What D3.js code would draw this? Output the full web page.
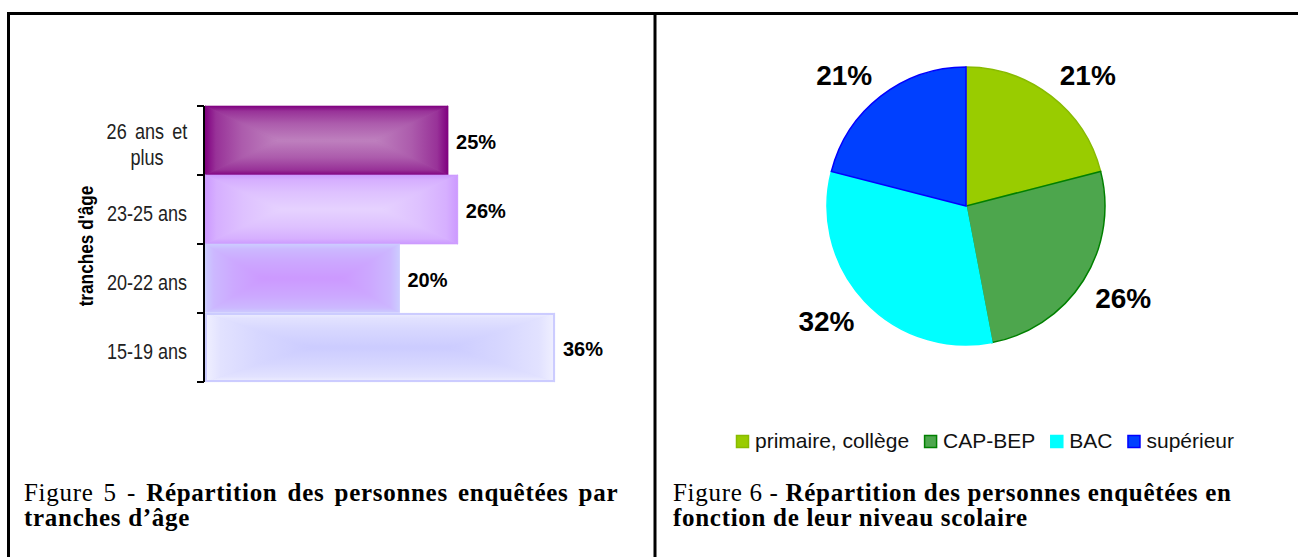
<!DOCTYPE html>
<html>
<head>
<meta charset="utf-8">
<script src="https://cdn.jsdelivr.net/npm/d3@7"></script>
<style>
  body { margin: 0; background: #fff; }
  svg { display: block; }
</style>
</head>
<body>
<div id="plot"></div>
<script>
// ---- data: age groups (figure 5) ----
const ageCategories = ["26 ans et\nplus", "23-25 ans", "20-22 ans", "15-19 ans"];
const agePercent = [25, 26, 20, 36];
const ageEdgeColors = ["#800080", "#CC99FF", "#CCCCFF", "#F0F0FF"];
const ageCenterColors = ["#BE80BE", "#E6D2FF", "#CC99FF", "#CCCCFF"];

// ---- data: school level (figure 6) ----
const schoolLevels = ["primaire, collège", "CAP-BEP", "BAC", "supérieur"];
const schoolPercent = [21, 26, 32, 21];
const schoolFill = ["#99CC00", "#4DA64D", "#00FFFF", "#0040FF"];
const schoolStroke = ["#88BB00", "#008000", "#00FFFF", "#0000FF"];

const w = 1298;
const h = 557;
const narrow = 0.82; // no Arial Narrow installed: squeeze Liberation Sans instead

const svg = d3.select("#plot")
     .append("svg")
     .attr("width", w)
     .attr("height", h);

const defs = svg.append("defs");

//-------------------------frame-------------------------------
const frame = svg.append("g").attr("stroke", "#000").attr("stroke-width", 3);
frame.append("line").attr("x1", 7).attr("x2", w).attr("y1", 13.5).attr("y2", 13.5);
frame.append("line").attr("x1", 8.5).attr("x2", 8.5).attr("y1", 12).attr("y2", h);
frame.append("line").attr("x1", 655).attr("x2", 655).attr("y1", 12).attr("y2", h);

//-------------------------bar chart-------------------------------
const x = d3.scaleLinear()
     .domain([0, 36])
     .range([205, 555]);

const y = d3.scaleBand()
     .domain(ageCategories)
     .range([106, 382])
     .padding(0);

// "from centre" gradient built from four pieces (top, bottom, left, right),
// each one a linear gradient from the edge colour to the centre colour
function gradientBar(g, i, x0, y0, bw, bh) {
  const a = Math.min(bw / 2, Math.max(bh / 2, 0.3 * bw));
  const cyy = y0 + bh / 2;
  const pieces = [
    {pts: [[x0, y0], [x0 + bw, y0], [x0 + bw - a, cyy], [x0 + a, cyy]], from: [x0, y0], to: [x0, cyy]},
    {pts: [[x0, y0 + bh], [x0 + bw, y0 + bh], [x0 + bw - a, cyy], [x0 + a, cyy]], from: [x0, y0 + bh], to: [x0, cyy]},
    {pts: [[x0, y0], [x0 + a, cyy], [x0, y0 + bh]], from: [x0, cyy], to: [x0 + a, cyy]},
    {pts: [[x0 + bw, y0], [x0 + bw - a, cyy], [x0 + bw, y0 + bh]], from: [x0 + bw, cyy], to: [x0 + bw - a, cyy]}
  ];
  const mix = d3.interpolateRgb(ageEdgeColors[i], ageCenterColors[i]);
  g.append("rect")
   .attr("x", x0).attr("y", y0).attr("width", bw).attr("height", bh)
   .attr("fill", mix(0.6));
  pieces.forEach((p, k) => {
    const id = "bar" + i + "_" + k;
    const lg = defs.append("linearGradient")
         .attr("id", id)
         .attr("gradientUnits", "userSpaceOnUse")
         .attr("x1", p.from[0]).attr("y1", p.from[1])
         .attr("x2", p.to[0]).attr("y2", p.to[1]);
    [0, 0.15, 0.5, 1].forEach(o => {
      lg.append("stop").attr("offset", o).attr("stop-color", mix(o == 0 ? 0 : Math.sqrt(o)));
    });
    g.append("polygon")
     .attr("points", p.pts.map(q => q.join(",")).join(" "))
     .attr("fill", "url(#" + id + ")")
     .attr("stroke", "url(#" + id + ")")
     .attr("stroke-width", 0.6)
     .attr("stroke-linejoin", "round");
  });
}

const bars = svg.append("g")
     .selectAll("g")
     .data(ageCategories)
     .enter()
     .append("g")
     .each(function(d, i) {
       gradientBar(d3.select(this), i, x(0), y(d), x(agePercent[i]) - x(0), y.bandwidth());
     });

// last bar has a thin outline
bars.filter((d, i) => i == 3)
     .append("rect")
     .attr("x", x(0) + 1)
     .attr("y", d => y(d) + 1)
     .attr("width", x(agePercent[3]) - x(0) - 2)
     .attr("height", y.bandwidth() - 2)
     .attr("fill", "none")
     .attr("stroke", "#CCCCFF")
     .attr("stroke-width", 2);

bars.append("text")
     .attr("x", (d, i) => x(agePercent[i]) + 8)
     .attr("y", d => y(d) + y.bandwidth() / 2 + 8)
     .attr("font-family", "Liberation Sans, Arial, sans-serif")
     .attr("font-weight", "bold")
     .attr("font-size", 20)
     .text((d, i) => agePercent[i] + "%");

// axis with ticks on the band boundaries
const axis = svg.append("g").attr("stroke", "#000").attr("stroke-width", 2);
axis.append("line")
     .attr("x1", x(0) - 1).attr("x2", x(0) - 1)
     .attr("y1", y.range()[0]).attr("y2", y.range()[1]);
axis.selectAll(".tick")
     .data(ageCategories.map(d => y(d)).concat([y.range()[1]]))
     .enter()
     .append("line")
     .attr("x1", x(0) - 8).attr("x2", x(0) - 1)
     .attr("y1", d => d).attr("y2", d => d);

const catLabels = svg.append("g")
     .attr("font-family", "Liberation Sans, Arial, sans-serif")
     .attr("font-size", 22)
     .attr("fill", "#222")
     .attr("text-anchor", "middle");
ageCategories.forEach(d => {
  const lines = d.split("\n");
  lines.forEach((l, k) => {
    const yb = y(d) + y.bandwidth() / 2 + 11 + (k - (lines.length - 1) / 2) * 26;
    catLabels.append("text")
         .attr("transform", "translate(147," + yb + ") scale(" + narrow + ",1)")
         .attr("word-spacing", lines.length > 1 ? 4 : 0)
         .text(l);
  });
});

svg.append("text")
     .attr("transform", "translate(93,246) rotate(-90) scale(" + narrow + ",1)")
     .attr("text-anchor", "middle")
     .attr("font-family", "Liberation Sans, Arial, sans-serif")
     .attr("font-weight", "bold")
     .attr("font-size", 21)
     .text("tranches d'âge");

//-------------------------pie chart-------------------------------
const cx = 966, cy = 206, r = 139;
const pie = d3.pie().sort(null).value(d => d);
const arc = d3.arc().innerRadius(0).outerRadius(r);
// the label's inner corner sits on this radius
const labelArc = d3.arc().innerRadius(153).outerRadius(153);
const slices = pie(schoolPercent);

const pieG = svg.append("g").attr("transform", "translate(" + cx + "," + cy + ")");
pieG.selectAll("path")
     .data(slices)
     .enter()
     .append("path")
     .attr("d", arc)
     .attr("fill", (d, i) => schoolFill[i])
     .attr("stroke", (d, i) => schoolStroke[i])
     .attr("stroke-width", 1.5);

pieG.selectAll("text")
     .data(slices)
     .enter()
     .append("text")
     .attr("transform", d => "translate(" + labelArc.centroid(d) + ")")
     .attr("dy", d => labelArc.centroid(d)[1] < 0 ? "0" : "0.72em")
     .attr("text-anchor", d => labelArc.centroid(d)[0] < 0 ? "end" : "start")
     .attr("font-family", "Liberation Sans, Arial, sans-serif")
     .attr("font-weight", "bold")
     .attr("font-size", 28)
     .text(d => d.value + "%");

// legend
const legend = svg.append("g")
     .attr("font-family", "Liberation Sans, Arial, sans-serif")
     .attr("font-size", 21)
     .attr("fill", "#111");
let lx = 736;
schoolLevels.forEach((name, i) => {
  legend.append("rect")
       .attr("x", lx + 0.5).attr("y", 435.5)
       .attr("width", 12).attr("height", 12)
       .attr("fill", schoolFill[i])
       .attr("stroke", schoolStroke[i])
       .attr("stroke-width", 1.5);
  const t = legend.append("text")
       .attr("x", lx + 19).attr("y", 448)
       .text(name);
  lx += 19 + t.node().getComputedTextLength() + 15;
});

//-------------------------captions-------------------------------
function caption(x0, num, line1, line2, spread) {
  const t = svg.append("text")
       .attr("font-family", "Liberation Serif, Times New Roman, serif")
       .attr("font-size", 25)
       .attr("letter-spacing", 0.7)
       .attr("fill", "#000");
  const l1 = t.append("tspan").attr("x", x0).attr("y", 501).attr("word-spacing", spread);
  l1.append("tspan").text("Figure " + num + " - ");
  l1.append("tspan").attr("font-weight", "bold").text(line1);
  t.append("tspan").attr("x", x0).attr("y", 526).attr("font-weight", "bold").text(line2);
}
// first line of figure 5 is justified in the source document
caption(24, 5, "Répartition des personnes enquêtées par", "tranches d’âge", 3.2);
caption(673, 6, "Répartition des personnes enquêtées en", "fonction de leur niveau scolaire", 0);
</script>
</body>
</html>
